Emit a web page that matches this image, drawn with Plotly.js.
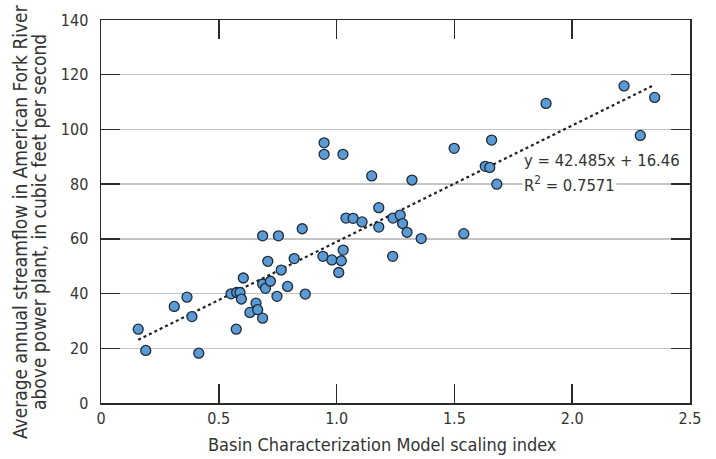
<!DOCTYPE html>
<html>
<head>
<meta charset="utf-8">
<script src="https://cdn.plot.ly/plotly-3.0.1.min.js"></script>
<style>html,body{margin:0;padding:0;background:#fff;}#chart{width:716px;height:459px;}</style>
</head>
<body>
<div id="chart"></div>
<script>
// Basin Characterization Model scaling index
const scalingIndex = [0.158,0.190,0.311,0.365,0.386,0.415,0.552,0.576,0.590,0.596,0.604,0.574,0.632,0.658,0.665,0.686,0.686,0.686,0.698,0.708,0.719,0.753,0.747,0.765,0.792,0.820,0.854,0.867,0.942,0.947,0.947,0.980,1.020,1.009,1.027,1.028,1.040,1.070,1.108,1.149,1.179,1.179,1.238,1.239,1.270,1.280,1.299,1.320,1.359,1.499,1.540,1.631,1.650,1.658,1.680,1.889,2.220,2.289,2.350];
// Average annual streamflow, cubic feet per second
const streamflow = [27.0,19.2,35.3,38.7,31.6,18.2,39.9,40.4,40.4,38.0,45.7,27.0,33.1,36.5,34.1,31.0,61.1,43.5,41.9,51.8,44.5,61.1,39.0,48.6,42.6,52.8,63.7,39.8,53.6,95.1,90.9,52.3,52.0,47.7,90.9,55.9,67.6,67.5,66.2,83.0,71.4,64.3,53.6,67.6,68.7,65.6,62.4,81.5,60.1,93.1,61.9,86.5,86.1,96.1,80.0,109.5,115.9,97.8,111.7];
// Trend line end points
const trendX = [0.158, 2.340];
const trendY = [23.1, 115.9];
const xTickVals = [0, 0.5, 1.0, 1.5, 2.0, 2.5];
const xTickText = ['0', '0.5', '1.0', '1.5', '2.0', '2.5'];
const yTickVals = [0, 20, 40, 60, 80, 100, 120, 140];
const xTitle = 'Basin Characterization Model scaling index';
const yTitleLines = ['Average annual streamflow in American Fork River', 'above power plant, in cubic feet per second'];
const equationText = 'y = 42.485x + 16.46';
const r2Text = 'R<sup>2</sup> = 0.7571';

const FONT = '"DejaVu Sans Condensed", "Liberation Sans Narrow", Arial, sans-serif';
const dark = '#2b2b2b';
const txt = '#333';

const traces = [
  {
    x: trendX, y: trendY, type: 'scatter', mode: 'lines',
    line: {color: '#222', width: 2.2, dash: 'dot'},
    hoverinfo: 'skip', showlegend: false
  },
  {
    x: scalingIndex, y: streamflow, type: 'scatter', mode: 'markers',
    marker: {size: 10, color: '#5b9bd5', line: {color: '#1f2a36', width: 1.3}},
    showlegend: false
  }
];

const plotH = 459 - 20 - 56, plotW = 716 - 101 - 26;
const px2paperX = p => (p - 101) / plotW;
const px2paperY = p => (459 - 56 - p) / plotH;

const layout = {
  width: 716, height: 459,
  margin: {l: 101, r: 26, t: 20, b: 56, pad: 0},
  paper_bgcolor: '#fff', plot_bgcolor: '#fff',
  font: {family: FONT, size: 16, color: txt},
  xaxis: {
    range: [0, 2.5], tickvals: xTickVals, ticktext: xTickText,
    ticks: 'inside', ticklen: 19, tickwidth: 1.5, tickcolor: dark,
    showline: true, linecolor: dark, linewidth: 1.5, mirror: 'allticks',
    showgrid: false, zeroline: false,
    tickfont: {family: FONT, size: 16, color: txt}
  },
  yaxis: {
    range: [0, 140], tickvals: yTickVals,
    ticks: 'inside', ticklen: 19, tickwidth: 1.5, tickcolor: dark,
    showline: true, linecolor: dark, linewidth: 1.5, mirror: 'allticks',
    showgrid: true, gridcolor: '#c4c4c4', gridwidth: 1.5, zeroline: false,
    ticklabelstandoff: 8,
    tickfont: {family: FONT, size: 16, color: txt}
  },
  annotations: [
    {x: px2paperX(382), y: px2paperY(444), xref: 'paper', yref: 'paper', showarrow: false,
     text: xTitle, xanchor: 'center', yanchor: 'middle',
     font: {family: FONT, size: 18, color: txt}},
    {x: px2paperX(20), y: px2paperY(222), xref: 'paper', yref: 'paper', showarrow: false,
     textangle: -90, text: yTitleLines[0], xanchor: 'center', yanchor: 'middle',
     font: {family: FONT, size: 19, color: txt}},
    {x: px2paperX(39), y: px2paperY(222), xref: 'paper', yref: 'paper', showarrow: false,
     textangle: -90, text: yTitleLines[1], xanchor: 'center', yanchor: 'middle',
     font: {family: FONT, size: 19, color: txt}},
    {x: px2paperX(522), y: px2paperY(160), xref: 'paper', yref: 'paper', xanchor: 'left', yanchor: 'middle', showarrow: false,
     text: equationText, font: {family: FONT, size: 16.5, color: txt}},
    {x: px2paperX(522), y: px2paperY(184), xref: 'paper', yref: 'paper', xanchor: 'left', yanchor: 'middle', showarrow: false,
     text: r2Text, bgcolor: '#fff', borderpad: 1, font: {family: FONT, size: 16.5, color: txt}}
  ]
};

Plotly.newPlot('chart', traces, layout, {staticPlot: true, displayModeBar: false});
</script>
</body>
</html>
